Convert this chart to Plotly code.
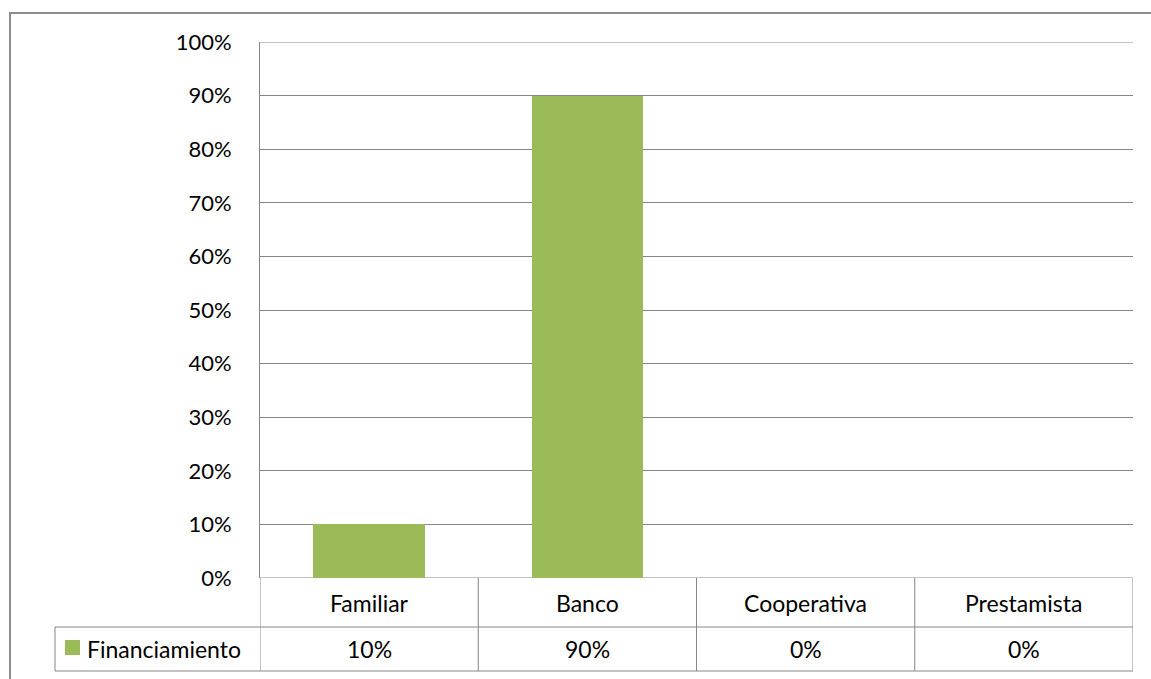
import plotly.graph_objects as go

categories = ["Familiar", "Banco", "Cooperativa", "Prestamista"]
values = [0.10, 0.90, 0.0, 0.0]
series_name = "Financiamiento"
y_ticks = [i / 10 for i in range(11)]
y_tick_labels = [f"{i*10}%" for i in range(11)]

W, H = 1151, 679
L, R, T, B = 260, 18, 42, 101
pw, ph = W - L - R, H - T - B

def px_x(x):
    return (x - L) / pw

def px_y(y):
    return (H - B - y) / ph

FONT = "Lato"
FS_TICK = 22
FS_TAB = 23
BAR = "#9BBB59"
GRID = "#878787"

fig = go.Figure()
fig.add_trace(go.Bar(
    x=list(range(len(categories))), y=values, name=series_name,
    marker=dict(color=BAR, line=dict(width=0)),
    width=0.51, showlegend=False,
))

shapes = []
ann = []
row1_bot = px_y(627)
row2_bot = px_y(671)
line = dict(color=GRID, width=1)
# top and bottom gridlines of the plot
for yy in [0, 1]:
    shapes.append(dict(type="line", xref="paper", yref="y", x0=0, x1=1, y0=yy, y1=yy, line=line, layer="below"))
# horizontal table lines
shapes.append(dict(type="line", xref="paper", yref="paper", x0=px_x(55), x1=1,
                   y0=row1_bot, y1=row1_bot, line=line))
shapes.append(dict(type="line", xref="paper", yref="paper", x0=px_x(55), x1=1,
                   y0=row2_bot, y1=row2_bot, line=line))
# vertical lines
for i in range(len(categories) + 1):
    shapes.append(dict(type="line", xref="x", yref="paper", x0=i - 0.5, x1=i - 0.5,
                       y0=0, y1=row2_bot, line=line))
shapes.append(dict(type="line", xref="paper", yref="paper", x0=px_x(55), x1=px_x(55),
                   y0=row1_bot, y1=row2_bot, line=line))
# legend key
shapes.append(dict(type="rect", xref="paper", yref="paper", x0=px_x(65), x1=px_x(80),
                   y0=px_y(655), y1=px_y(640), fillcolor=BAR, line=dict(width=0)))
# outer border
shapes.append(dict(type="rect", xref="paper", yref="paper", x0=px_x(10), x1=px_x(1160),
                   y0=px_y(690), y1=px_y(13), line=dict(color="#8c8c8c", width=2)))

for i, (c, v) in enumerate(zip(categories, values)):
    ann.append(dict(x=i, y=(0 + row1_bot) / 2, xref="x", yref="paper", text=c, showarrow=False,
                    font=dict(family=FONT, size=FS_TAB, color="black"), yanchor="middle"))
    ann.append(dict(x=i, y=(row1_bot + row2_bot) / 2, xref="x", yref="paper", text=f"{round(v*100)}%",
                    showarrow=False, font=dict(family=FONT, size=FS_TAB, color="black"), yanchor="middle"))
ann.append(dict(x=px_x(85), y=(row1_bot + row2_bot) / 2, xref="paper", yref="paper", text=series_name,
                showarrow=False, xanchor="left", yanchor="middle",
                font=dict(family=FONT, size=FS_TAB, color="black")))

fig.update_layout(
    width=W, height=H, margin=dict(l=L, r=R, t=T, b=B, autoexpand=False),
    paper_bgcolor="white", plot_bgcolor="white",
    shapes=shapes, annotations=ann,
    xaxis=dict(range=[-0.5, len(categories) - 0.5], showticklabels=False, showgrid=False,
               zeroline=False, showline=False),
    yaxis=dict(range=[0, 1], tickvals=y_ticks, ticktext=y_tick_labels, showgrid=True,
               gridcolor=GRID, gridwidth=1, zeroline=False, showline=True, linecolor=GRID,
               ticks="", ticklabelstandoff=23,
               tickfont=dict(family=FONT, size=FS_TICK, color="black")),
    bargap=0,
)
fig.write_html("out.html")
